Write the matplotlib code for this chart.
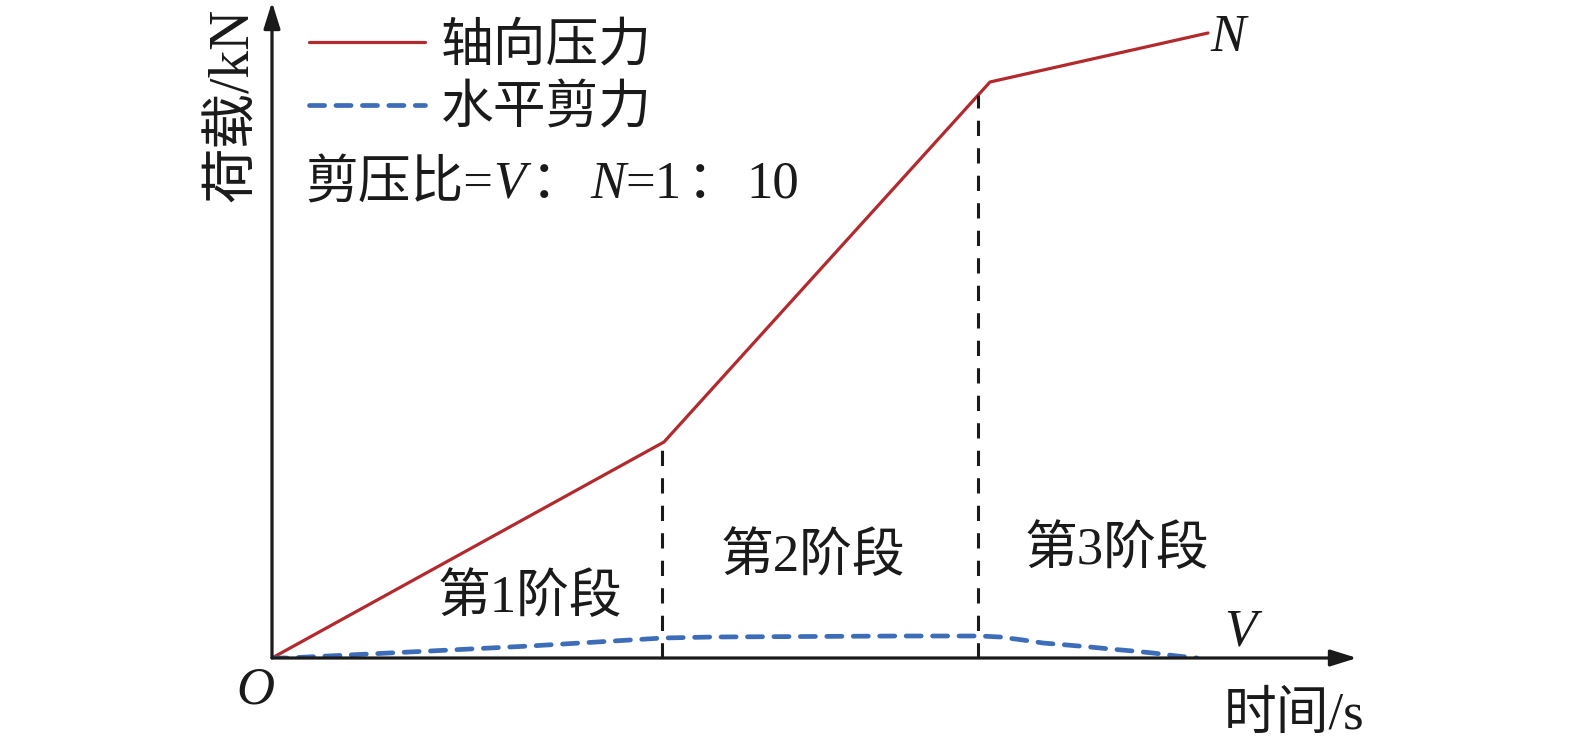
import matplotlib
matplotlib.use("Agg")
import matplotlib.pyplot as plt
import numpy as np

plt.rcParams['font.family'] = ['Liberation Serif', 'Noto Sans CJK SC', 'DejaVu Sans']

# Data (schematic units)
axial_t = [0, 392, 718, 936]
axial_load = [0, 216, 576, 625]
shear_t = [0, 15, 158, 258, 325, 391, 441, 628, 708, 728, 751, 771, 795, 818, 838, 861, 881, 905, 925]
shear_load = [0, 0, 7, 12, 16, 20, 21, 22, 22, 21, 18, 15, 13, 11, 9, 7, 5, 2, 0]
stage_bounds = [390, 706]
stage_labels = ['第1阶段', '第2阶段', '第3阶段']
stage_label_x = [258, 541, 845]
stage_label_y = [60, 101, 108]
ratio_pieces = [('剪压比=', 'normal', 0), ('V', 'italic', 6), ('：', 'normal', 6), ('N', 'italic', 0),
                ('=1', 'normal', 6), ('：', 'normal', 6), ('10', 'normal', 0)]

W, H = 1575, 747
fig = plt.figure(figsize=(W/100, H/100), dpi=100)
x0, y0 = 272, 658
xmax_px, ymax_px = 1357, 2
ax = fig.add_axes([x0/W, 1 - y0/H, (xmax_px - x0)/W, (y0 - ymax_px)/H])
ax.set_xlim(0, xmax_px - x0)
ax.set_ylim(0, y0 - ymax_px)
for s in ax.spines.values():
    s.set_visible(False)
ax.set_xticks([]); ax.set_yticks([])
ax.patch.set_alpha(0)

red = '#B22A2E'
blue = '#3D6DB8'
ink = '#1a1a1a'
FS = 38

# axes arrows
for tip in [(1, 0), (0, 1)]:
    ax.annotate('', xy=tip, xytext=(0, 0), xycoords='axes fraction',
                arrowprops=dict(arrowstyle='-|>,head_length=1.6,head_width=0.5', lw=2.3, color=ink,
                                shrinkA=0, shrinkB=0), annotation_clip=False)

l1, = ax.plot(axial_t, axial_load, color=red, lw=2.3, label='轴向压力', solid_capstyle='round')
l2, = ax.plot(shear_t, shear_load, color=blue, lw=3.4, ls=(0, (3.2, 2.4)), label='水平剪力',
              dash_capstyle='round')

for b in stage_bounds:
    yb = np.interp(b, axial_t, axial_load)
    ax.plot([b, b], [0, yb], color=ink, lw=2.2, ls=(0, (5, 4)))

for lab, lx, ly in zip(stage_labels, stage_label_x, stage_label_y):
    ax.text(lx, ly, lab, fontsize=FS, ha='center', va='center', color=ink)

ax.legend(handles=[l1, l2], loc='upper left', bbox_to_anchor=(37/(xmax_px-x0), 1.0 - 20/(y0-ymax_px)),
          frameon=False, fontsize=FS, handlelength=2.2, handletextpad=0.3,
          labelspacing=0.27, borderaxespad=0.0, borderpad=0.0, labelcolor=ink)

# 剪压比 text, pieces laid out in sequence
fig.canvas.draw()
renderer = fig.canvas.get_renderer()
xpix = 305
for txt, st, gap in ratio_pieces:
    t = fig.text(xpix/W, 1 - 185/H, txt, fontsize=FS, style=st, ha='left', va='center', color=ink)
    bb = t.get_window_extent(renderer)
    xpix += bb.width + gap

ax.text(1228 - x0, y0 - 38, 'N', fontsize=FS, style='italic', ha='center', va='center', color=ink)
ax.text(1240 - x0, y0 - 633, 'V', fontsize=FS, style='italic', ha='center', va='center', color=ink)
ax.text(255 - x0, y0 - 690, 'O', fontsize=FS, style='italic', ha='center', va='center', color=ink)
ax.text(1364 - x0, y0 - 716, '时间/s', fontsize=FS, ha='right', va='center', color=ink)
ax.text(234 - x0, y0 - 105, '荷载/kN', fontsize=40, rotation=90, ha='center', va='center', color=ink)

fig.savefig('out.png', dpi=100)
